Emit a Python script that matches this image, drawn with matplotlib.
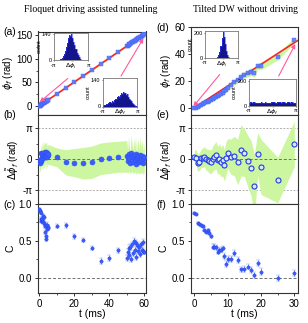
import numpy as np
import matplotlib
matplotlib.use('Agg')
import matplotlib.pyplot as plt
from matplotlib.ticker import MultipleLocator, FixedLocator

plt.rcParams['font.family'] = ['Liberation Sans', 'DejaVu Sans']
plt.rcParams['mathtext.fontset'] = 'dejavusans'

################################################################################
# left column: Floquet driving assisted tunneling

t_l = [0, 0.25, 0.5, 0.75, 1, 1.25, 1.5, 1.75, 2, 2.25, 2.5, 2.75, 3, 3.25, 3.5, 3.75, 4, 4.25, 4.5, 4.75, 5,
       10, 15, 20, 25, 30, 35, 40, 45,
       50, 50.5, 51, 51.5, 52, 52.5, 53, 53.5, 54, 54.5, 55, 55.5, 56, 56.5, 57, 57.5, 58, 58.5, 59, 59.5, 60]
phi_l = [0.0, 0.6, 0.9, 1.7, 3.1, 3.1, 4.1, 4.9, 5.7, 5.8, 6.6, 7.4, 8.1, 9.0, 9.2, 9.8, 10.8, 11.4, 11.6, 12.4, 13.2,
         25.5, 37.7, 50.3, 62.9, 75.6, 88.6, 101.4, 114.1,
         126.8, 127.6, 129.5, 130.4, 131.2, 133.4, 134.3, 135.1, 137.0, 137.8, 139.7, 140.0, 141.8, 143.3, 144.0,
         145.9, 146.5, 148.3, 149.3, 150.2, 152.0]
dphi_l = [-0.07, -0.14, -0.4, -0.2, 0.6, -0.07, 0.26, 0.5, 0.66, 0.09, 0.3, 0.43, 0.55, 0.77, 0.35, 0.26, 0.7, 0.6, 0.2, 0.43, 0.5,
          0.2, -0.3, -0.34, -0.4, -0.3, 0.05, 0.16, 0.26,
          0.3, -0.2, 0.5, 0.1, -0.4, 0.6, 0.2, -0.3, 0.4, -0.1, 0.55, -0.45, 0.1, 0.35, -0.25, 0.45, -0.2, 0.3, 0.0, -0.35, 0.25]
std_l = [0.8, 0.9, 0.9, 1.0, 1.0, 1.0, 1.1, 1.1, 1.2, 1.1, 1.2, 1.2, 1.1, 1.0, 1.2, 1.3, 1.0, 1.1, 1.1, 1.0, 1.0,
         0.95, 1.27, 1.43, 1.6, 1.64, 1.6, 1.6, 1.57,
         1.6, 1.2, 1.8, 1.3, 1.1, 1.9, 1.4, 1.2, 1.7, 1.3, 1.8, 1.1, 1.5, 1.7, 1.2, 1.8, 1.3, 1.6, 1.4, 1.2, 1.5]
C_l = [0.93, 0.91, 0.90, 0.88, 0.79, 0.77, 0.78, 0.80, 0.84, 0.76, 0.82, 0.74, 0.71, 0.70, 0.62, 0.56, 0.53, 0.72, 0.66, 0.69, 0.68,
       0.70, 0.71, 0.56, 0.51, 0.40, 0.22, 0.26, 0.37,
       0.27, 0.35, 0.40, 0.30, 0.42, 0.25, 0.45, 0.33, 0.50, 0.38, 0.47, 0.28, 0.44, 0.36, 0.42, 0.32, 0.45, 0.38, 0.48, 0.36, 0.35]
Cerr_l = [0.02, 0.02, 0.02, 0.02, 0.03, 0.03, 0.03, 0.03, 0.03, 0.03, 0.03, 0.03, 0.03, 0.03, 0.03, 0.03, 0.03, 0.03, 0.03, 0.03, 0.03,
          0.03, 0.03, 0.03, 0.03, 0.03, 0.04, 0.04, 0.03,
          0.04, 0.04, 0.04, 0.04, 0.04, 0.04, 0.04, 0.04, 0.04, 0.04, 0.04, 0.04, 0.04, 0.04, 0.04, 0.04, 0.04, 0.04, 0.04, 0.04, 0.03]
fit_l_t = [0, 60]
fit_l_phi = [0, 152]

# inset histograms (32 bins over [-pi, pi])
hist_li = [0, 0, 0, 0, 2, 4, 8, 14, 22, 34, 50, 70, 95, 120, 138, 132, 140, 118, 100, 80, 60, 42, 28, 16, 8, 3, 1, 0, 0, 0, 0, 0]
hist_lf = [6, 10, 8, 14, 12, 18, 22, 20, 28, 26, 34, 40, 38, 48, 55, 52, 62, 70, 66, 78, 72, 60, 64, 50, 42, 36, 28, 20, 14, 9, 5, 2]

################################################################################
# right column: Tilted DW without driving

t_r = [0, 0.5, 1, 1.5, 2, 2.5, 3, 3.5, 4, 4.5, 5, 5.5, 6, 6.5, 7, 7.5, 8, 8.5, 9, 9.5,
       10, 11, 12, 13, 14, 15, 16, 17, 18, 19, 20, 25, 30]
phi_r = [0.0, 0.6, 1.2, 1.8, 2.5, 3.1, 3.8, 4.4, 5.0, 5.7, 6.3, 7.1, 7.9, 8.6, 9.3, 10.1, 10.9, 11.7, 12.6, 13.5,
         15.2, 17.2, 19.5, 20.8, 23.5, 24.8, 25.8, 27.0, 26.2, 31.0, 31.3, 38.0, 50.2]
dphi_r = [0.26, 0.16, -0.34, -0.24, 0.1, 0.17, 0.26, 0.0, -0.1, -0.2, -0.27, 0.05, 0.26, 0.4, -0.1, 0.05, -0.27, -0.1, -0.6, 0.1,
          0.59, 0.26, 0.33, -0.27, 0.9, 0.67, -0.17, -0.87, -2.7, 0.5, -0.77, -2.1, 1.55]
std_r = [0.7, 0.8, 0.9, 0.9, 0.9, 1.0, 1.0, 1.1, 1.1, 1.2, 1.2, 1.3, 1.3, 1.4, 1.4, 1.5, 1.5, 1.6, 1.6, 1.7,
         1.5, 1.8, 2.0, 2.3, 2.6, 2.4, 2.6, 2.8, 3.2, 2.2, 2.8, 2.3, 2.3]
C_r = [0.88, 0.86, 0.74, 0.73, 0.71, 0.70, 0.65, 0.62, 0.64, 0.60, 0.56, 0.42, 0.42, 0.41, 0.35, 0.37, 0.38, 0.40, 0.29, 0.18,
       0.25, 0.25, 0.33, 0.24, 0.11, 0.12, 0.15, 0.10, 0.03, 0.20, 0.08, -0.01, 0.06]
Cerr_r = [0.015, 0.015, 0.015, 0.015, 0.02, 0.02, 0.02, 0.02, 0.02, 0.02, 0.02, 0.03, 0.03, 0.03, 0.03, 0.03, 0.03, 0.03, 0.04, 0.04,
          0.04, 0.04, 0.04, 0.04, 0.04, 0.04, 0.04, 0.04, 0.04, 0.04, 0.05, 0.04, 0.04]
fit_r_t = [0, 31]
fit_r_phi = [0.5, 50.1]

hist_ri = [0, 0, 0, 0, 0, 0, 0, 0, 0, 0, 1, 3, 8, 20, 48, 95, 160, 205, 170, 110, 55, 22, 8, 3, 1, 0, 0, 0, 0, 0, 0, 0]
hist_rf = [22, 28, 24, 30, 26, 20, 27, 25, 31, 23, 26, 29, 24, 27, 22, 30, 28, 33, 26, 29, 35, 31, 27, 34, 30, 26, 32, 28, 25, 30, 27, 22]

################################################################################

BLUE = '#3a5cff'
DBLUE = '#1f3fe0'
GREEN = '#ccf7a0'
RED = '#ff2222'
PINK = '#ff5a9e'
NAVY = '#14148c'
W, H = 308., 323.

def frac(x0, y0, x1, y1):
    return [x0 / W, 1 - y1 / H, (x1 - x0) / W, (y1 - y0) / H]

def style(ax, fs=7):
    for s in ax.spines.values():
        s.set_color('#333333')
        s.set_linewidth(0.8)
    ax.tick_params(which='both', direction='out', labelsize=fs, color='#333333', pad=1.5)
    ax.tick_params(which='major', length=2.5, width=0.7)
    ax.tick_params(which='minor', length=1.5, width=0.6)

def inset(rect, counts, ymax, ytop, xl):
    ax = fig.add_axes(frac(*rect))
    edges = np.linspace(-np.pi, np.pi, len(counts) + 1)
    ax.stairs(counts, edges, fill=True, color=NAVY)
    ax.stairs(counts, edges, color='#2a3aff', lw=0.4)
    ax.set_xlim(-np.pi, np.pi)
    ax.set_ylim(0, ymax)
    ax.set_xticks([-np.pi, np.pi])
    ax.set_xticklabels(['-\u03c0', '\u03c0'])
    ax.set_yticks([0, ytop])
    for s in ax.spines.values():
        s.set_color('#777777')
        s.set_linewidth(0.6)
    ax.tick_params(labelsize=4, length=1, width=0.4, pad=0.8)
    ax.set_ylabel('count', fontsize=4, labelpad=0)
    ax.set_xlabel(xl, fontsize=4.5, labelpad=-5)
    return ax

fig = plt.figure(figsize=(3.08, 3.23), dpi=100)

cols = [
    dict(x0=37.7, x1=146, top_a=31.5, t=t_l, phi=phi_l, dphi=dphi_l, std=std_l, C=C_l, Cerr=Cerr_l,
         ft=fit_l_t, fp=fit_l_phi, xlim=(-0.9, 61), xmaj=20, xmin=10, philim=(-18, 157.5), phimaj=50,
         labels='abc', hollow=False),
    dict(x0=190.7, x1=298, top_a=26.7, t=t_r, phi=phi_r, dphi=dphi_r, std=std_r, C=C_r, Cerr=Cerr_r,
         ft=fit_r_t, fp=fit_r_phi, xlim=(-1.1, 31.1), xmaj=10, xmin=5, philim=(-4.5, 60.3), phimaj=20,
         labels='def', hollow=True),
]

axes_top = []
for c in cols:
    t = np.array(c['t'])
    order = np.argsort(t, kind='stable')
    ts = t[order]
    phi = np.array(c['phi'])[order]
    dphi = np.array(c['dphi'])[order]
    std = np.array(c['std'])[order]

    ax1 = fig.add_axes(frac(c['x0'], c['top_a'], c['x1'], 114.5))
    ax2 = fig.add_axes(frac(c['x0'], 114.5, c['x1'], 204))
    ax3 = fig.add_axes(frac(c['x0'], 204, c['x1'], 293))

    # (a)/(d) accumulated phase
    ax1.fill_between(ts, phi - std, phi + std, color=GREEN, lw=0, zorder=1)
    ax1.plot(c['ft'], c['fp'], color=RED, lw=1.2, zorder=2)
    ax1.plot(ts, phi, 's', ms=2.2, color='#5b7bff', mec='#4060f0', mew=0.3, alpha=0.9, zorder=3)
    ax1.set_ylim(*c['philim'])
    ax1.yaxis.set_major_locator(MultipleLocator(c['phimaj']))
    ax1.yaxis.set_minor_locator(MultipleLocator(c['phimaj'] / 2))
    ax1.set_ylabel('$\\phi_f$ (rad)', fontsize=7, labelpad=1)
    ax1.tick_params(labelbottom=False)

    # (b)/(e) phase deviation
    ax2.fill_between(ts, dphi - std, dphi + std, color=GREEN, lw=0, zorder=1)
    for yv in (np.pi, -np.pi):
        ax2.axhline(yv, color='#b0b0b0', ls=(0, (2, 1.5)), lw=0.7, zorder=0)
    ax2.axhline(0, color='#707070', ls=(0, (3, 2)), lw=0.7, zorder=2)
    if c['hollow']:
        ax2.plot(ts, dphi, 'o', ms=3.6, mfc='#dfe6ff', mec=DBLUE, mew=0.8, zorder=3)
    else:
        ax2.plot(ts, dphi, 'o', ms=3.6, mfc=BLUE, mec='#2f4ff0', mew=0.4, zorder=3)
    ax2.set_ylim(-4.53, 4.54)
    ax2.yaxis.set_major_locator(FixedLocator([-np.pi, 0, np.pi]))
    ax2.yaxis.set_minor_locator(FixedLocator([-np.pi / 2, np.pi / 2]))
    ax2.set_yticklabels(['-\u03c0', '0', '\u03c0'])
    ax2.set_ylabel('$\\Delta\\tilde{\\phi}_f$ (rad)', fontsize=7, labelpad=1)
    ax2.tick_params(labelbottom=False)

    # (c)/(f) contrast
    ax3.axhline(0, color='#707070', ls=(0, (3, 2)), lw=0.7, zorder=0)
    ax3.errorbar(c['t'], c['C'], yerr=c['Cerr'], fmt='o', ms=2.4, color=DBLUE, mfc=BLUE, mew=0.3,
                 ecolor='#6f8cff', elinewidth=0.7, capsize=1.2, capthick=0.6, zorder=3)
    ax3.set_ylim(-0.21, 1.0)
    ax3.yaxis.set_major_locator(MultipleLocator(0.5))
    ax3.yaxis.set_minor_locator(MultipleLocator(0.25))
    ax3.yaxis.set_major_formatter(matplotlib.ticker.FormatStrFormatter('%.1f'))
    ax3.set_ylabel('C', fontsize=7.5, labelpad=2)
    ax3.set_xlabel('t (ms)', fontsize=7.5, labelpad=0.5)

    for ax in (ax1, ax2, ax3):
        ax.set_xlim(*c['xlim'])
        ax.xaxis.set_major_locator(MultipleLocator(c['xmaj']))
        ax.xaxis.set_minor_locator(MultipleLocator(c['xmin']))
        style(ax)
    axes_top.append(ax1)

    # panel letters
    for ax, lab in zip((ax1, ax2, ax3), c['labels']):
        fig.text(c['x0'] / W - 0.11, ax.get_position().y1 - 0.003, '(%s)' % lab,
                 fontsize=7.5, ha='left', va='center')

fig.align_ylabels()

# insets
inset((54, 32.5, 88.3, 60.3), hist_li, 150, 140, '$\\Delta\\tilde{\\phi}_i$')
inset((103, 78, 137.3, 106.5), hist_lf, 150, 140, '$\\Delta\\tilde{\\phi}_f$')
inset((205, 31, 238, 58), hist_ri, 215, 200, '$\\Delta\\tilde{\\phi}_i$')
inset((249, 79, 295.5, 106), hist_rf, 215, 200, '$\\Delta\\tilde{\\phi}_f$')

# arrows from insets to the curve ends
arrow = dict(arrowstyle='-|>', color=PINK, lw=0.8, mutation_scale=6, shrinkA=0, shrinkB=0)
ax_a, ax_d = axes_top
ax_a.annotate('', xy=(0.3, 8.5), xycoords='data', xytext=(67.7 / W, 1 - 78.5 / H),
              textcoords='figure fraction', arrowprops=arrow, zorder=5)
ax_a.annotate('', xy=(59.5, 143), xycoords='data', xytext=(121 / W, 1 - 76 / H),
              textcoords='figure fraction', arrowprops=arrow, zorder=5)
ax_d.annotate('', xy=(-0.3, 1.5), xycoords='data', xytext=(219.7 / W, 1 - 74.5 / H),
              textcoords='figure fraction', arrowprops=arrow, zorder=5)
ax_d.annotate('', xy=(30.3, 47.5), xycoords='data', xytext=(278.7 / W, 1 - 76 / H),
              textcoords='figure fraction', arrowprops=arrow, zorder=5)

# column titles
fig.text(91 / W, 1 - 10 / H, 'Floquet driving assisted tunneling', fontsize=7,
         family=['Liberation Serif', 'DejaVu Serif'], ha='center', va='center')
fig.text(245.5 / W, 1 - 10 / H, 'Tilted DW without driving', fontsize=7,
         family=['Liberation Serif', 'DejaVu Serif'], ha='center', va='center')

plt.savefig('out.png', dpi=100)
